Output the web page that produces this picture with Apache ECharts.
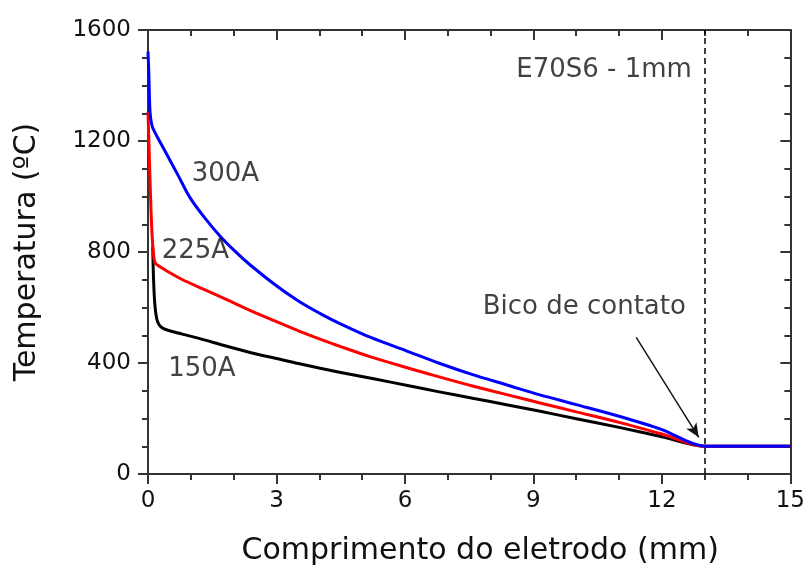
<!DOCTYPE html>
<html>
<head>
<meta charset="utf-8">
<script src="https://cdn.jsdelivr.net/npm/echarts@6/dist/echarts.min.js"></script>
<style>
  html, body { margin: 0; padding: 0; background: #fff; }
  #chart { width: 808px; height: 571px; }
</style>
</head>
<body>
<div id="chart"></div>
<script>
// Temperature profile along the electrode stick-out for three welding currents
const x150 = [0.11, 0.13, 0.16, 0.2, 0.25, 0.32, 0.45, 0.8, 1.21, 1.8, 2.38, 3.0, 3.54, 4.5, 5.3, 6.03, 6.8, 7.58, 8.4, 9.13, 10.0, 11.0, 12.0, 13.0, 14.0, 15.0];
const t150 = [820, 700, 610, 562, 540, 528, 519, 504, 488, 462, 438, 416, 397, 366, 342, 320, 296, 273, 249, 227, 199, 168, 134, 100, 100, 100];

const x225 = [0, 0.03, 0.07, 0.1, 0.13, 0.17, 0.3, 0.5, 0.82, 1.21, 1.8, 2.38, 3.0, 3.54, 4.0, 4.5, 5.2, 6.03, 6.8, 7.58, 8.4, 9.13, 10.0, 11.0, 12.0, 13.0, 14.0, 15.0];
const t225 = [1305, 1150, 950, 850, 790, 760, 745, 726, 699, 672, 631, 590, 549, 514, 487, 459, 422, 384, 350, 317, 285, 257, 224, 186, 144, 100, 100, 100];

const x300 = [0, 0.02, 0.035, 0.05, 0.08, 0.12, 0.4, 0.7, 0.98, 1.33, 1.68, 2.03, 2.38, 2.96, 3.54, 4.12, 4.47, 5.2, 6.03, 6.8, 7.58, 8.4, 9.13, 10.0, 11.0, 12.0, 13.0, 14.0, 15.0];
const t300 = [1522, 1440, 1350, 1300, 1265, 1244, 1163, 1077, 996, 922, 858, 803, 754, 683, 621, 570, 543, 492, 444, 399, 358, 320, 286, 250, 208, 160, 100, 100, 100];

// Contact tip position (mm) and the arrow pointing at it
const contactTip = 13;
const arrowFrom = [11.4, 492];
const arrowTo = [12.86, 132];

// Text annotations: [x, temperature, text, side]
const notes = [
  [1.02, 1081, '300A', 'right'],
  [0.32, 804, '225A', 'right'],
  [0.47, 377, '150A', 'right'],
  [12.7, 1454, 'E70S6 - 1mm', 'left'],
  [12.56, 601, 'Bico de contato', 'left']
];

const xTicks = { min: 0, max: 15, interval: 3 };
const yTicks = { min: 0, max: 1600, interval: 400 };

const FONT = 'DejaVu Sans';
const TEXT_COLOR = '#111';
const AXIS_COLOR = '#333';

function zip(xs, ys) { return xs.map((v, i) => [v, ys[i]]); }

const chart = echarts.init(document.getElementById('chart'), null, { renderer: 'canvas' });

const axisCommon = {
  type: 'value',
  axisLine: { show: true, onZero: false, lineStyle: { color: AXIS_COLOR, width: 2 } },
  splitLine: { show: false },
  minorSplitLine: { show: false }
};

const plainNumber = v => String(v);

chart.setOption({
  animation: false,
  backgroundColor: '#fff',
  grid: { left: 148, right: 16, top: 30, bottom: 91, containLabel: false },
  xAxis: [
    Object.assign({}, axisCommon, {
      position: 'bottom',
      min: xTicks.min, max: xTicks.max, interval: xTicks.interval,
      axisTick: { show: true, inside: false, length: 10, lineStyle: { color: AXIS_COLOR, width: 2 } },
      minorTick: { show: true, splitNumber: 3, length: 6, lineStyle: { color: AXIS_COLOR, width: 2 } },
      axisLabel: { show: true, margin: 16, fontFamily: FONT, fontSize: 23, color: TEXT_COLOR, formatter: plainNumber },
      name: 'Comprimento do eletrodo (mm)',
      nameLocation: 'middle',
      nameGap: 62,
      nameTextStyle: { fontFamily: FONT, fontSize: 30, color: TEXT_COLOR, padding: [0, 0, 0, 22] }
    }),
    Object.assign({}, axisCommon, {
      position: 'top',
      min: xTicks.min, max: xTicks.max, interval: xTicks.interval,
      axisTick: { show: true, inside: true, length: 10, lineStyle: { color: AXIS_COLOR, width: 2 } },
      minorTick: { show: true, splitNumber: 3, length: 6, lineStyle: { color: AXIS_COLOR, width: 2 } },
      axisLabel: { show: false }
    })
  ],
  yAxis: [
    Object.assign({}, axisCommon, {
      position: 'left',
      min: yTicks.min, max: yTicks.max, interval: yTicks.interval,
      axisTick: { show: true, inside: false, length: 10, lineStyle: { color: AXIS_COLOR, width: 2 } },
      minorTick: { show: true, splitNumber: 4, length: 6, lineStyle: { color: AXIS_COLOR, width: 2 } },
      axisLabel: { show: true, margin: 17, fontFamily: FONT, fontSize: 23, color: TEXT_COLOR, formatter: plainNumber },
      name: 'Temperatura (ºC)',
      nameLocation: 'middle',
      nameGap: 106,
      nameTextStyle: { fontFamily: FONT, fontSize: 30, color: TEXT_COLOR }
    }),
    Object.assign({}, axisCommon, {
      position: 'right',
      min: yTicks.min, max: yTicks.max, interval: yTicks.interval,
      axisTick: { show: true, inside: true, length: 10, lineStyle: { color: AXIS_COLOR, width: 2 } },
      minorTick: { show: true, splitNumber: 4, length: 6, lineStyle: { color: AXIS_COLOR, width: 2 } },
      axisLabel: { show: false }
    })
  ],
  series: [
    {
      name: '150A', type: 'line', data: zip(x150, t150),
      showSymbol: false, smooth: 0.3,
      lineStyle: { color: '#000', width: 3, join: 'round' }, z: 3,
      markLine: {
        silent: true, symbol: ['none', 'none'],
        label: { show: false },
        lineStyle: { color: '#000', width: 1.5, type: [6, 4] },
        data: [{ xAxis: contactTip }]
      }
    },
    {
      name: '225A', type: 'line', data: zip(x225, t225),
      showSymbol: false, smooth: 0.3,
      lineStyle: { color: '#ff0000', width: 3, join: 'round' }, z: 4,
      markLine: {
        silent: true, symbol: ['none', 'arrow'], symbolSize: [9, 14],
        label: { show: false },
        lineStyle: { color: '#111', width: 1.5, type: 'solid' },
        itemStyle: { color: '#111' },
        data: [[{ coord: arrowFrom }, { coord: arrowTo }]]
      }
    },
    {
      name: '300A', type: 'line', data: zip(x300, t300),
      showSymbol: false, smooth: 0.3,
      lineStyle: { color: '#0000ff', width: 3, join: 'round' }, z: 5
    },
    {
      name: 'notes', type: 'scatter', symbolSize: 0, silent: true, z: 6,
      data: notes.map(n => ({
        value: [n[0], n[1]],
        label: {
          show: true, position: n[3], distance: 0,
          formatter: n[2],
          fontFamily: FONT, fontSize: 26, color: TEXT_COLOR
        }
      }))
    }
  ]
});
</script>
</body>
</html>
